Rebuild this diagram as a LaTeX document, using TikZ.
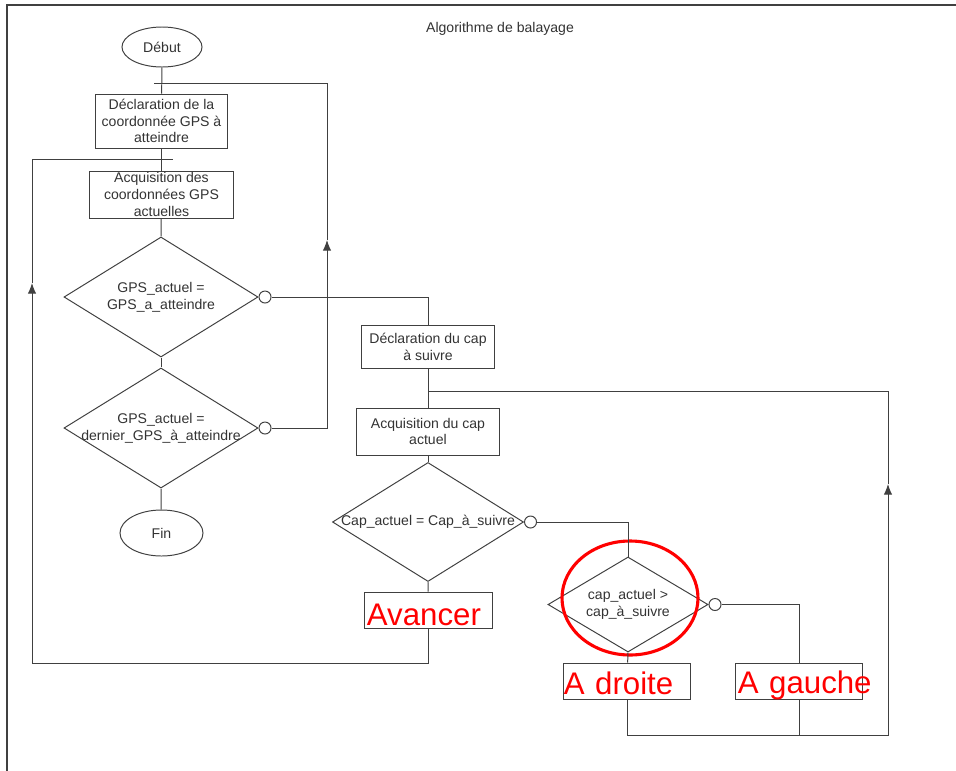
\documentclass[tikz,border=0pt]{standalone}
\usepackage{fontspec}
\setmainfont{Liberation Sans}
\usetikzlibrary{shapes.geometric,positioning,arrows.meta}

\begin{document}
\begin{tikzpicture}[x=0.025cm,y=-0.025cm,color=black!75,line width=0.7pt,
    every node/.style={font=\fontsize{10}{12}\selectfont,text=black!80},
    boite/.style={draw,rectangle,inner sep=0pt,align=center},
    terminal/.style={draw,ellipse,inner sep=0pt,minimum width=2cm,minimum height=1cm},
    test/.style={draw,diamond,inner sep=0pt},
    port/.style={draw,circle,inner sep=0pt,minimum size=0.3cm},
    rouge/.style={text=red,font=\fontsize{22.2}{24}\selectfont,align=left,
      text width=3.15cm,text depth=0cm},
    fleche/.style={-{Latex[length=7.5pt,width=6pt]}}]
  \useasboundingbox (0,0) rectangle (956,771);
  \draw[line width=1pt] (956,5) -- (7,5) -- (7,771);
  \node (titre) at (500,29) {Algorithme de balayage};

  % branche GPS
  \node[terminal] (debut) at (162,47) {D\'ebut};
  \node[boite,minimum width=3.275cm,minimum height=1.35cm] (declgps) at (161.5,121)
    {D\'eclaration de la\\coordonn\'ee GPS \`a\\atteindre};
  \node[boite,minimum width=3.575cm,minimum height=1.175cm] (acqgps) at (161.5,194.5)
    {Acquisition des\\coordonn\'ees GPS\\actuelles};
  \node[test,minimum width=4.85cm,minimum height=3cm] (testgps) at (161,297) {};
  \node[align=center] (testgpst) at (testgps) {GPS\_actuel =\\GPS\_a\_atteindre};
  \node[port,right=0pt of testgps.east] (ogps) {};
  \node[test,minimum width=4.85cm,minimum height=3cm] (testder) at (161,428) {};
  \node[align=center] (testdert) at (testder) {GPS\_actuel =\\dernier\_GPS\_\`a\_atteindre};
  \node[port,right=0pt of testder.east] (oder) {};
  \node[terminal,minimum width=2.075cm,minimum height=1.15cm] (fin) at (161.5,533) {Fin};

  % branche cap
  \node[boite,minimum width=3.3cm,minimum height=1.075cm] (declcap) at (428,346.5)
    {D\'eclaration du cap\\\`a suivre};
  \node[boite,minimum width=3.55cm,minimum height=1.175cm] (acqcap) at (428,431.5)
    {Acquisition du cap\\actuel};
  \node[test,minimum width=4.775cm,minimum height=2.975cm] (testcap) at (428,522) {};
  \node (testcapt) at (testcap) {Cap\_actuel = Cap\_\`a\_suivre};
  \node[port,right=0pt of testcap.east] (ocap) {};
  \node[boite,rouge,text width=3.175cm,minimum height=0.9cm,text height=0.77cm]
    (avancer) at (428.5,610) {\kern0.05cm Avancer};
  \node[test,minimum width=4cm,minimum height=2.375cm] (testsup) at (628,604.5) {};
  \node[align=center] (testsupt) at (testsup) {cap\_actuel >\\cap\_\`a\_suivre};
  \node[port,right=0pt of testsup.east] (osup) {};
  \node[boite,rouge,minimum height=0.9cm,text height=0.65cm] (droite) at (627,681) {A~droite};
  \node[boite,rouge,minimum height=0.9cm,text height=0.625cm] (gauche) at (799,681) {\kern0.05cm A~gauche};
  \draw[red,line width=2.2pt] (630,598) ellipse [x radius=68,y radius=57];

  % liaisons
  \coordinate (hautgps) at (327,240);
  \coordinate (retgps) at (154,83);
  \coordinate (hautav) at (32,283);
  \coordinate (retav) at (173,159);
  \coordinate (hautcap) at (888,484);
  \coordinate (retcap) at (428,391);
  \draw (debut) -- (declgps);
  \draw (declgps) -- (acqgps);
  \draw (acqgps) -- (testgps.north);
  \draw (testgps.south) -- (testder.north);
  \draw (testder.south) -- (fin);
  \draw (ogps.east) -| (declcap.north);
  \draw[fleche] (oder.east) -| (hautgps);
  \draw (hautgps) |- (retgps);
  \draw (declcap) -- (acqcap);
  \draw (acqcap) -- (testcap.north);
  \draw (testcap.south) -- (avancer);
  \draw[fleche] (avancer.south) -- ++(0,35) -| (hautav);
  \draw (hautav) |- (retav);
  \draw (ocap.east) -| (testsup.north);
  \draw (testsup.south) -- (droite);
  \draw (osup.east) -| (gauche.north);
  \draw[fleche] (droite.south) -- ++(0,36) -| (hautcap);
  \draw (hautcap) |- (retcap);
  \draw (gauche.south) -- ++(0,36);
\end{tikzpicture}
\end{document}
